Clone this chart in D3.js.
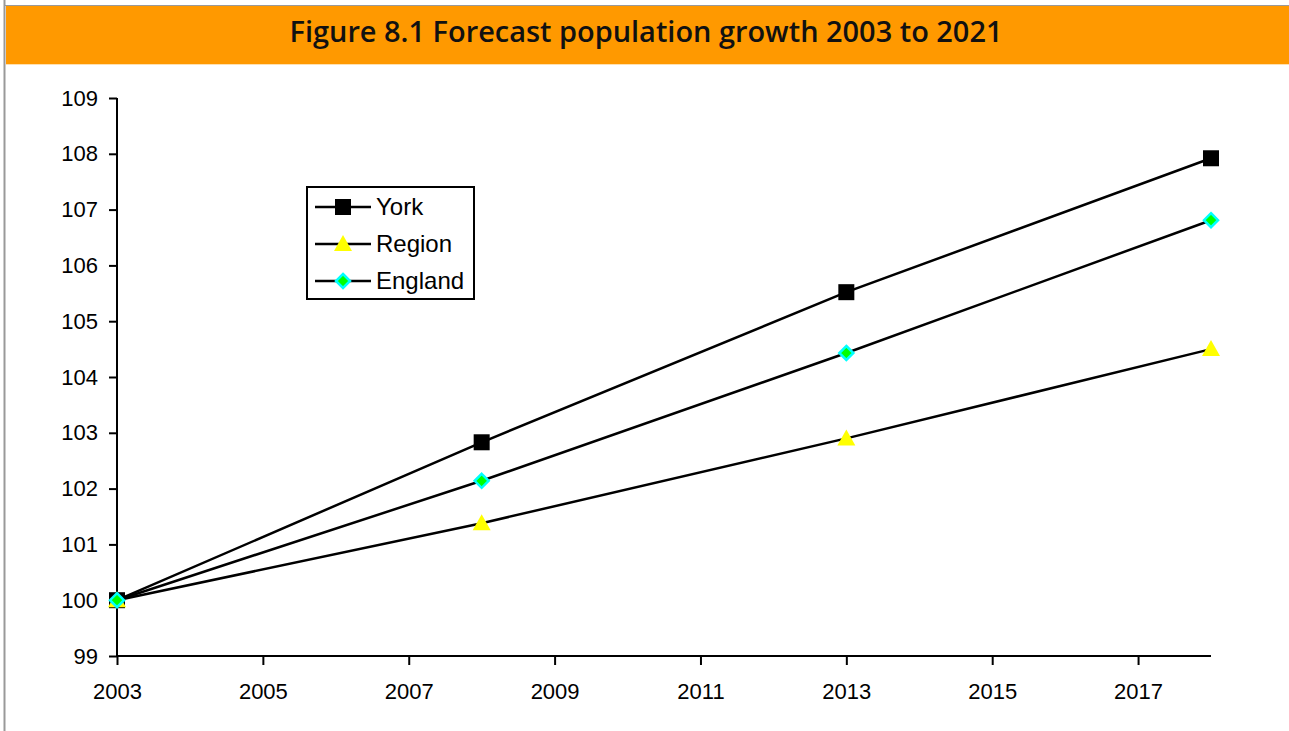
<!DOCTYPE html>
<html><head><meta charset="utf-8">
<script src="https://cdn.jsdelivr.net/npm/d3@7"></script>
<style>body{margin:0;background:#fff;}svg{display:block;}</style>
</head><body>
<script>
const years = [2003, 2008, 2013, 2018];
const york = [100, 102.83, 105.52, 107.92];
const region = [100, 101.38, 102.9, 104.5];
const england = [100, 102.14, 104.43, 106.81];
const xTicks = [2003, 2005, 2007, 2009, 2011, 2013, 2015, 2017];
const yTicks = [99, 100, 101, 102, 103, 104, 105, 106, 107, 108, 109];
const seriesNames = ["York", "Region", "England"];
const title = "Figure 8.1 Forecast population growth 2003 to 2021";

const W = 1289, H = 731;
const svg = d3.select("body").append("svg").attr("width", W).attr("height", H);

// frame
svg.append("line").attr("x1", 4.5).attr("x2", 4.5).attr("y1", 0).attr("y2", H).attr("stroke", "#999").attr("stroke-width", 2);
svg.append("line").attr("x1", 4).attr("x2", W).attr("y1", 5.5).attr("y2", 5.5).attr("stroke", "#999").attr("stroke-width", 1);
svg.append("rect").attr("x", 6).attr("y", 6).attr("width", W - 6).attr("height", 58).attr("fill", "#FF9900");
svg.append("line").attr("x1", 6).attr("x2", W).attr("y1", 64.5).attr("y2", 64.5).attr("stroke", "#FFE0B0").attr("stroke-width", 1);
svg.append("text").attr("x", 646).attr("y", 42).attr("text-anchor", "middle")
  .attr("font-family", "Open Sans").attr("font-weight", 600).attr("font-size", 28)
  .attr("textLength", 713).attr("lengthAdjust", "spacingAndGlyphs")
  .attr("fill", "#111").text(title);

const x = d3.scaleLinear().domain([2003, 2018]).range([117, 1211]);
const y = d3.scaleLinear().domain([99, 109]).range([656, 98]);

const font = "Liberation Sans, Arial, sans-serif";
const yAxis = svg.append("g").attr("transform", "translate(117,0)")
  .call(d3.axisLeft(y).tickValues(yTicks).tickSize(8).tickPadding(11).tickFormat(d3.format("d")));
const xAxis = svg.append("g").attr("transform", "translate(0,656)")
  .call(d3.axisBottom(x).tickValues(xTicks).tickSize(9).tickPadding(18).tickFormat(d3.format("d")));
[yAxis, xAxis].forEach(a => {
  a.select(".domain").attr("stroke", "#000").attr("stroke-width", 2);
  a.selectAll(".tick line").attr("stroke", "#000").attr("stroke-width", 2);
  a.selectAll(".tick text").attr("font-family", font).attr("font-size", 22).attr("fill", "#000");
});
xAxis.select(".domain").attr("d", `M${x(2003)},0H${x(2018)}`);
yAxis.select(".domain").attr("d", `M0,${y(109)}V${y(99)}`);

const line = d3.line().x(d => x(d[0])).y(d => y(d[1]));
const data = [york, region, england];
data.forEach(vals => {
  svg.append("path").datum(years.map((yr, i) => [yr, vals[i]]))
    .attr("d", line).attr("fill", "none").attr("stroke", "#000").attr("stroke-width", 2.5);
});

function marker(g, type, cx, cy) {
  if (type === 0) {
    g.append("rect").attr("x", cx - 8).attr("y", cy - 8).attr("width", 16).attr("height", 16).attr("fill", "#000");
  } else if (type === 1) {
    g.append("path").attr("d", `M${cx},${cy - 9}L${cx + 9},${cy + 7}L${cx - 9},${cy + 7}Z`).attr("fill", "#FFFF00");
  } else {
    g.append("path").attr("d", `M${cx},${cy - 7}L${cx + 7},${cy}L${cx},${cy + 7}L${cx - 7},${cy}Z`)
      .attr("fill", "#00FF00").attr("stroke", "#00FFFF").attr("stroke-width", 2.5);
  }
}
const mg = svg.append("g");
data.forEach((vals, s) => {
  years.forEach((yr, i) => marker(mg, s, x(yr), y(vals[i])));
});

// legend
const lg = svg.append("g");
lg.append("rect").attr("x", 307).attr("y", 187).attr("width", 167).attr("height", 112)
  .attr("fill", "#fff").attr("stroke", "#000").attr("stroke-width", 2);
seriesNames.forEach((n, i) => {
  const cy = 207 + i * 37;
  lg.append("line").attr("x1", 315).attr("x2", 371).attr("y1", cy).attr("y2", cy).attr("stroke", "#000").attr("stroke-width", 2.5);
  marker(lg, i, 343, cy);
  lg.append("text").attr("x", 376).attr("y", cy + 8).attr("font-family", font).attr("font-size", 24).attr("fill", "#000").text(n);
});
</script>
</body></html>
